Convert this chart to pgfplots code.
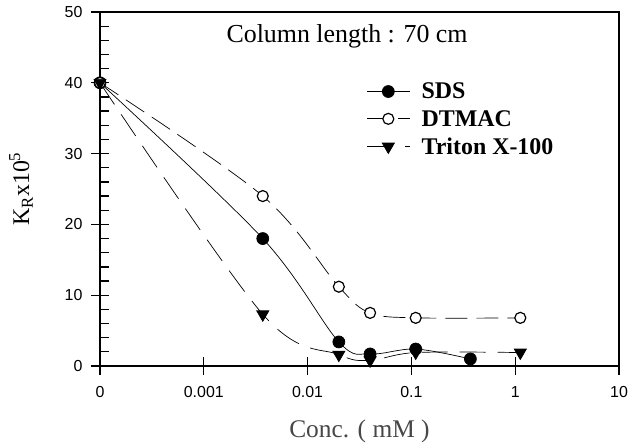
\documentclass[border=0pt]{standalone}
\usepackage{fontspec}
\setmainfont{Liberation Serif}
\setsansfont{Liberation Sans}
\usepackage{pgfplots}
\pgfplotsset{compat=1.18}
\begin{document}
\begin{tikzpicture}[x=1bp,y=1bp]
\begin{axis}[
 at={(0,0)}, anchor=south west,
 scale only axis, width=519bp, height=354bp,
 xmode=log, log basis x=10,
 xmin=1e-4, xmax=10, ymin=0, ymax=50,
 xtick={1e-4,1e-3,1e-2,1e-1,1,10},
 xticklabels={0,0.001,0.01,0.1,1,10},
 ytick={0,10,20,30,40,50},
 minor y tick num=4,
 tick align=inside,
 major tick length=9bp, minor tick length=9bp,
 xtick pos=bottom, ytick pos=left,
 extra x ticks={1e-4,1e-3,1e-2,1e-1,1,10}, extra x tick labels={},
 extra y ticks={0,10,20,30,40,50}, extra y tick labels={},
 extra tick style={tick align=outside},
 axis line style={line width=1.5bp},
 every tick/.style={black, line width=1.3bp},
 tick label style={font=\sffamily\fontsize{16}{19}\selectfont},
 /pgf/number format/assume math mode=true,
 xticklabel style={yshift=-17bp},
 yticklabel style={xshift=-14bp},
 xlabel={Conc. ( mM )},
 xlabel style={font=\fontsize{25.5}{28}\selectfont, text=black!72, yshift=-6bp},
 ylabel={K\textsubscript{R}x10\textsuperscript{5}},
 ylabel style={font=\fontsize{24}{28}\selectfont, yshift=16bp},
 legend style={at={(axis description cs:0.514,0.806)}, anchor=north west, draw=none, fill=none,
   font=\bfseries\fontsize{24}{26}\selectfont, row sep=6bp, inner sep=0pt,
   /tikz/every odd column/.append style={column sep=10bp}},
 legend cell align=left,
 legend image code/.code={\draw[mark repeat=2, mark phase=2, #1] plot coordinates {(0bp,0bp) (21bp,0bp) (42bp,0bp)};},
 clip=false,
]
\addplot[black, line width=0.7bp, smooth, tension=0.55, mark=*, mark size=6bp, mark options={solid, fill=black}]
 coordinates {(1e-4,40) (0.0037,18) (0.02,3.4) (0.04,1.7) (0.11,2.4) (0.37,1.0)};
\addlegendentry{SDS}
\addplot[black, line width=0.7bp, smooth, tension=0.55, dash pattern=on 22bp off 9bp, mark=*, mark size=5.5bp, mark options={solid, fill=white, line width=1.2bp}]
 coordinates {(1e-4,40) (0.0037,24) (0.02,11.2) (0.04,7.5) (0.11,6.8) (1.12,6.8)};
\addlegendentry{DTMAC}
\addplot[black, line width=0.7bp, smooth, tension=0.55, dash pattern=on 26bp off 12bp, mark=triangle*, mark size=7bp, mark options={solid, fill=black, rotate=180}]
 coordinates {(1e-4,40) (0.0037,7.3) (0.02,1.6) (0.04,0.8) (0.11,1.9) (1.12,1.9)};
\addlegendentry{Triton X-100}
\node[anchor=base, font=\fontsize{26}{30}\selectfont] at (axis description cs:0.476,0.915) {Column length : 70 cm};
\end{axis}
\pgfresetboundingbox
\path (-100,-81) rectangle (543,366);
\end{tikzpicture}
\end{document}
